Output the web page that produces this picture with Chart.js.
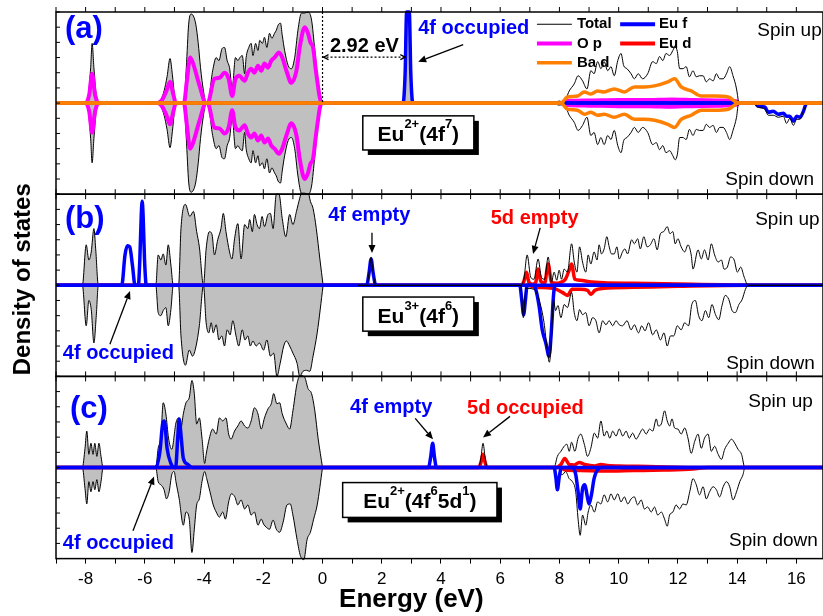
<!DOCTYPE html>
<html>
<head>
<meta charset="utf-8">
<title>Density of states</title>
<script src="https://cdn.jsdelivr.net/npm/chart.js@4.4.1/dist/chart.umd.min.js"></script>
<style>
  html, body { margin: 0; padding: 0; background: #ffffff; }
  canvas { display: block; }
</style>
</head>
<body>
<canvas id="dosChart" width="823" height="616"></canvas>
<script>
// axis ranges
const xMin = -9;
const xMax = 16.9;
const yLimit = 9;
const yTickStep = 1.5;

const colTotal = '#000000';
const colFill = '#c0c0c0';
const colOp = '#ff00ff';
const colBad = '#ff8000';
const colEuf = '#0000ff';
const colEud = '#ff0000';
const FONT = '"Liberation Sans", Arial, sans-serif';

// ---- panel (a) : Eu2+(4f7), spin up / spin down nearly mirror each other ----
const aValTotal = [[-9,0],[-8.0,0],[-7.9,1.0],[-7.83,3.5],[-7.78,5.9],[-7.72,3.5],[-7.65,1.0],[-7.55,0],
  [-5.57,0],[-5.45,0.4],[-5.35,1.2],[-5.25,2.6],[-5.15,4.4],[-5.07,2.8],[-5.0,0.8],[-4.95,0],
  [-4.68,0],[-4.6,3.5],[-4.52,7.8],[-4.44,8.8],[-4.36,8.6],[-4.28,7.8],[-4.2,6.0],[-4.12,3.5],[-4.02,1.2],[-3.93,0],
  [-3.88,0],[-3.71,3.2],[-3.59,4.5],[-3.50,4.2],[-3.39,5.4],[-3.31,5.5],[-3.22,4.2],[-3.14,3.5],[-3.05,1.5],[-2.94,4.5],
  [-2.86,4.2],[-2.79,4.5],[-2.71,4.7],[-2.63,2.9],[-2.58,4.5],[-2.49,5.5],[-2.41,5.9],[-2.35,4.7],[-2.26,5.9],[-2.18,5.2],
  [-2.12,6.2],[-2.03,5.9],[-1.96,6.5],[-1.88,5.5],[-1.79,6.9],[-1.71,6.4],[-1.62,6.9],[-1.56,7.2],[-1.50,7.7],[-1.42,7.9],
  [-1.36,6.7],[-1.28,5.2],[-1.16,3.7],[-1.05,3.4],[-0.94,4.5],[-0.83,7.2],[-0.71,8.9],[-0.60,8.9],[-0.49,9.0],[-0.37,8.2],
  [-0.26,5.2],[-0.15,1.9],[-0.03,0]];
const aPeakTotal = [[2.72,0],[2.79,3.0],[2.84,9.0],[2.93,9.0],[2.98,3.0],[3.05,0]];
const aCondTotal = [[7.82,0],[7.99,0.2],[8.16,0.1],[8.33,1.2],[8.50,1.9],[8.63,2.7],[8.78,2.2],[8.93,1.4],[9.06,3.2],
  [9.17,2.9],[9.29,4.1],[9.40,3.4],[9.51,4.1],[9.63,3.2],[9.74,3.6],[9.85,2.7],[9.97,4.2],[10.08,4.9],[10.17,3.7],
  [10.28,3.4],[10.42,2.9],[10.53,2.4],[10.66,2.9],[10.81,2.4],[10.98,2.9],[11.15,4.1],[11.27,3.9],[11.38,4.6],[11.49,4.2],
  [11.60,4.9],[11.72,4.7],[11.83,5.2],[11.91,5.6],[11.98,5.1],[12.06,3.4],[12.17,3.4],[12.28,3.6],[12.39,2.6],[12.51,3.2],
  [12.62,2.6],[12.73,2.7],[12.85,2.7],[12.96,2.1],[13.07,2.4],[13.19,2.2],[13.30,2.9],[13.41,2.4],[13.53,2.4],[13.64,2.9],
  [13.75,3.6],[13.86,2.7],[13.98,1.4],[14.05,0]];
const aTotalDnTail = [[14.55,0],[14.7,0.4],[14.94,0.6],[15.05,1.2],[15.22,1.2],[15.39,1.4],[15.56,1.3],[15.67,2.0],
  [15.78,1.5],[15.9,2.2],[16.01,1.6],[16.12,1.6],[16.24,0.8],[16.35,0]];
const aOp = [[-9,0],[-8.0,0],[-7.88,0.8],[-7.78,2.9],[-7.68,0.8],[-7.55,0],[-5.57,0],[-5.4,0.4],[-5.27,1.2],[-5.15,2.1],
  [-5.05,1.0],[-4.95,0],[-4.68,0],[-4.58,2.2],[-4.47,4.5],[-4.38,4.0],[-4.16,1.8],[-3.93,0],[-3.88,0],[-3.65,2.4],
  [-3.48,2.5],[-3.31,3.0],[-3.17,2.4],[-3.05,0.7],[-2.94,2.4],[-2.80,2.7],[-2.71,2.4],[-2.63,2.2],[-2.52,3.0],[-2.41,3.4],
  [-2.30,3.0],[-2.18,3.7],[-2.07,3.2],[-1.96,3.9],[-1.84,3.5],[-1.73,4.2],[-1.62,4.5],[-1.47,5.0],[-1.36,4.5],[-1.22,3.2],
  [-1.05,2.0],[-0.88,3.2],[-0.77,5.5],[-0.60,7.5],[-0.49,6.9],[-0.41,6.0],[-0.32,5.5],[-0.21,2.9],[-0.03,0],
  [8.0,0],[8.3,0.2],[9.0,0.25],[10.0,0.3],[11.0,0.3],[11.8,0.35],[12.5,0.3],[13.5,0.25],[14.0,0.15],[14.05,0],[16.9,0]];
const aBad = [[-9,0],[8.05,0],[8.27,0.6],[8.61,0.7],[8.84,1.1],[9.06,0.9],[9.29,1.2],[9.51,1.1],[9.85,1.4],[10.19,1.1],
  [10.53,1.6],[10.87,1.6],[11.21,1.7],[11.66,2.1],[11.89,2.4],[12.11,1.6],[12.45,1.2],[12.79,0.7],[13.24,0.7],[13.70,0.6],
  [14.06,0],[16.9,0]];
const aEufUp = [[-9,0],[2.72,0],[2.79,3.0],[2.84,9.0],[2.93,9.0],[2.98,3.0],[3.05,0],[16.9,0]];
const aEufDn = [[-9,0],[14.6,0],[14.71,0.3],[14.94,0.4],[15.05,0.9],[15.22,0.8],[15.39,1.1],[15.56,1.0],[15.67,1.3],
  [15.78,1.3],[15.9,1.8],[16.01,1.3],[16.12,1.4],[16.24,0.8],[16.35,0],[16.9,0]];

// ---- panel (b) : Eu3+(4f6) ----
const bValTotUp = [[-9,0],[-8.11,0],[-7.98,4.0],[-7.89,2.5],[-7.81,3.3],[-7.72,5.6],[-7.66,3.6],[-7.57,0],
  [-5.63,0],[-5.55,3.0],[-5.46,2.5],[-5.38,3.1],[-5.29,2.0],[-5.21,4.0],[-5.12,2.0],[-5.04,0],
  [-4.86,0],[-4.78,5.6],[-4.63,8.0],[-4.48,6.8],[-4.36,7.3],[-4.25,5.3],[-4.16,3.8],[-4.02,0],
  [-3.93,3.6],[-3.82,5.3],[-3.73,5.0],[-3.65,3.0],[-3.54,4.5],[-3.43,5.6],[-3.35,7.1],[-3.26,5.3],[-3.14,3.3],[-3.06,2.6],
  [-2.97,4.6],[-2.86,6.1],[-2.75,2.6],[-2.63,6.0],[-2.52,5.6],[-2.46,6.5],[-2.37,5.3],[-2.30,7.0],[-2.21,6.0],[-2.13,5.6],
  [-2.04,6.8],[-1.96,5.8],[-1.84,7.0],[-1.76,7.1],[-1.67,5.6],[-1.56,9.0],[-1.47,9.0],[-1.36,6.6],[-1.24,4.8],[-1.11,7.0],
  [-1.00,6.0],[-0.88,7.3],[-0.77,8.6],[-0.66,9.6],[-0.49,9.3],[-0.41,8.3],[-0.32,7.6],[-0.21,5.6],[-0.09,2.6],[0.02,0]];
const bValTotDn = [[-9,0],[-8.11,0],[-7.98,4.0],[-7.89,1.5],[-7.81,2.4],[-7.72,5.7],[-7.64,3.0],[-7.57,0],
  [-5.63,0],[-5.55,2.7],[-5.46,3.0],[-5.38,2.5],[-5.29,2.2],[-5.21,4.0],[-5.12,2.4],[-5.04,0],
  [-4.86,0],[-4.78,5.0],[-4.63,7.9],[-4.50,6.4],[-4.39,7.0],[-4.27,6.0],[-4.16,4.0],[-4.02,0],
  [-3.93,3.7],[-3.84,4.7],[-3.76,3.7],[-3.69,4.7],[-3.59,3.9],[-3.50,5.4],[-3.40,5.0],[-3.31,6.0],[-3.22,4.4],[-3.12,4.9],
  [-3.03,3.5],[-2.92,5.0],[-2.83,6.0],[-2.71,4.4],[-2.62,5.4],[-2.52,5.0],[-2.44,6.0],[-2.35,5.5],[-2.24,6.0],[-2.13,5.7],
  [-1.99,6.4],[-1.88,5.4],[-1.76,7.0],[-1.65,6.7],[-1.54,9.0],[-1.43,7.7],[-1.31,6.0],[-1.22,5.5],[-1.11,6.0],[-1.00,6.7],
  [-0.86,7.7],[-0.77,9.0],[-0.66,8.5],[-0.54,8.4],[-0.43,8.5],[-0.32,7.0],[-0.18,4.7],[0.02,0]];
const bCondTotUp = [[1.2,0],[1.49,0],[1.57,1.2],[1.64,2.8],[1.71,1.2],[1.80,0],[6.69,0],[6.80,0.6],[6.91,3.0],[7.03,0.8],
  [7.14,0.6],[7.28,2.6],[7.39,0.8],[7.50,0.6],[7.62,2.8],[7.73,0.3],[7.82,1.3],[7.91,0.5],[7.99,1.5],[8.07,0.6],[8.16,1.6],
  [8.27,1.3],[8.41,4.1],[8.50,2.3],[8.59,1.3],[8.68,3.8],[8.78,2.3],[8.89,1.3],[8.97,3.0],[9.06,2.1],[9.17,3.3],[9.27,2.5],
  [9.34,4.0],[9.42,3.1],[9.51,3.6],[9.60,4.8],[9.68,3.8],[9.76,3.1],[9.85,3.1],[9.94,3.8],[10.02,2.6],[10.13,3.3],
  [10.21,3.6],[10.30,3.1],[10.44,4.5],[10.53,4.1],[10.64,4.6],[10.73,3.6],[10.85,4.8],[10.96,3.8],[11.07,4.0],[11.19,4.6],
  [11.30,3.5],[11.41,5.1],[11.52,5.3],[11.64,5.8],[11.73,5.1],[11.83,5.3],[11.91,4.1],[12.00,4.6],[12.11,3.8],[12.23,3.3],
  [12.34,4.0],[12.45,3.0],[12.51,1.6],[12.68,3.5],[12.79,2.6],[12.90,3.5],[13.02,2.5],[13.13,4.1],[13.24,3.0],[13.36,2.3],
  [13.47,2.5],[13.56,1.6],[13.67,1.8],[13.78,2.8],[13.90,2.5],[14.01,1.3],[14.12,1.8],[14.24,0.8],[14.37,0],[16.9,0]];
const bCondTotDn = [[1.2,0],[6.69,0],[6.78,3.2],[6.87,0.3],[7.14,0.4],[7.31,1.4],[7.48,3.7],[7.59,6.4],[7.66,7.6],
  [7.73,5.4],[7.80,1.4],[7.87,2.5],[7.95,2.0],[8.05,3.2],[8.16,1.9],[8.27,2.2],[8.41,0.7],[8.50,2.7],[8.59,3.5],[8.68,2.4],
  [8.78,2.9],[8.89,2.7],[9.00,4.0],[9.12,3.2],[9.23,3.5],[9.34,4.7],[9.46,3.5],[9.57,3.9],[9.68,3.5],[9.80,4.0],[9.91,3.5],
  [10.02,3.9],[10.13,4.0],[10.28,3.5],[10.42,4.4],[10.53,3.9],[10.67,4.7],[10.78,4.0],[10.89,4.5],[11.01,3.7],[11.15,4.9],
  [11.27,4.4],[11.41,5.4],[11.53,4.7],[11.64,6.0],[11.75,5.0],[11.86,5.0],[11.98,4.0],[12.11,4.4],[12.23,3.7],[12.36,4.0],
  [12.47,1.9],[12.59,1.5],[12.70,3.0],[12.81,3.5],[12.93,2.5],[13.04,3.2],[13.15,1.9],[13.27,2.9],[13.38,3.4],[13.49,2.0],
  [13.60,1.0],[13.72,1.4],[13.83,2.5],[13.94,2.7],[14.06,1.9],[14.17,1.4],[14.28,0.4],[14.37,0],[16.9,0]];
const bEufUp = [[-9,0],[-6.78,0],[-6.67,3.0],[-6.59,3.9],[-6.51,3.8],[-6.42,2.0],[-6.33,0],[-6.22,0],[-6.17,2.5],
  [-6.12,7.0],[-6.09,8.3],[-6.06,7.0],[-6.01,2.5],[-5.95,0],[1.49,0],[1.57,1.2],[1.64,2.6],[1.71,1.2],[1.80,0],[16.9,0]];
const bEufDn = [[-9,0],[6.66,0],[6.73,1.5],[6.79,2.9],[6.85,1.5],[6.91,0],[7.12,0],[7.20,0.4],[7.31,2.0],[7.42,4.4],
  [7.54,5.7],[7.65,7.0],[7.73,4.4],[7.80,1.0],[7.85,0],[16.9,0]];
const bEudUp = [[-9,0],[6.72,0],[6.80,0.4],[6.89,1.3],[6.97,0.3],[7.10,0.1],[7.20,0.3],[7.28,1.6],[7.37,0.4],[7.50,0.2],
  [7.62,2.1],[7.73,0.3],[7.87,0.2],[8.05,0.3],[8.20,0.6],[8.33,1.5],[8.41,2.1],[8.52,0.6],[8.70,0.5],[9.00,0.35],
  [9.50,0.25],[10.50,0.2],[11.50,0.15],[12.50,0.1],[13.50,0.05],[14.37,0],[16.9,0]];
const bEudDn = [[-9,0],[6.90,0],[7.20,0.2],[7.60,0.25],[7.90,0.4],[8.10,0.7],[8.27,1.0],[8.43,0.4],[8.70,0.4],[8.95,0.5],
  [9.06,0.9],[9.20,0.5],[9.50,0.3],[10.50,0.2],[12.00,0.1],[14.37,0],[16.9,0]];

// ---- panel (c) : Eu2+(4f6 5d1) ----
const cValTotUp = [[-9,0],[-8.11,0],[-8.02,1.9],[-7.96,3.6],[-7.89,1.3],[-7.82,2.4],[-7.75,1.3],[-7.69,2.4],[-7.62,1.1],
  [-7.55,2.4],[-7.48,1.1],[-7.41,0],[-5.63,0],[-5.55,1.9],[-5.46,2.9],[-5.38,6.4],[-5.29,5.3],[-5.20,2.9],[-5.09,1.8],
  [-4.95,4.4],[-4.86,4.9],[-4.78,3.9],[-4.70,5.3],[-4.61,6.4],[-4.50,6.9],[-4.41,8.6],[-4.33,7.3],[-4.25,4.3],[-4.16,4.9],
  [-4.07,2.9],[-3.98,0.4],[-3.93,1.3],[-3.82,2.9],[-3.71,3.8],[-3.59,3.3],[-3.48,4.9],[-3.37,4.6],[-3.26,4.9],[-3.17,3.3],
  [-3.09,2.8],[-2.97,3.6],[-2.86,4.1],[-2.75,4.6],[-2.63,4.1],[-2.52,3.9],[-2.41,4.6],[-2.30,5.9],[-2.18,5.3],[-2.07,3.8],
  [-1.96,4.9],[-1.84,5.8],[-1.73,6.3],[-1.65,7.3],[-1.54,6.3],[-1.45,6.4],[-1.36,5.3],[-1.22,4.3],[-1.11,3.8],[-1.00,5.6],
  [-0.86,8.3],[-0.75,9.1],[-0.60,8.9],[-0.49,7.8],[-0.37,7.3],[-0.26,5.6],[-0.15,2.9],[0.0,0]];
const cValTotDn = [[-9,0],[-8.11,0],[-8.02,2.1],[-7.96,3.6],[-7.89,1.4],[-7.82,2.4],[-7.75,1.4],[-7.69,2.2],[-7.62,1.2],
  [-7.55,2.4],[-7.48,1.4],[-7.41,0],[-5.63,0],[-5.55,1.4],[-5.46,1.7],[-5.35,2.2],[-5.27,3.1],[-5.18,2.4],[-5.09,0.7],
  [-5.01,0.4],[-4.95,1.4],[-4.84,3.1],[-4.70,5.7],[-4.61,4.4],[-4.50,5.1],[-4.41,8.4],[-4.33,6.1],[-4.25,3.7],[-4.16,3.1],
  [-4.07,1.4],[-3.98,0.4],[-3.91,1.1],[-3.80,2.4],[-3.69,3.7],[-3.59,4.4],[-3.48,4.9],[-3.37,4.4],[-3.28,5.1],[-3.17,3.4],
  [-3.08,2.6],[-2.96,2.9],[-2.86,3.7],[-2.75,3.2],[-2.63,4.1],[-2.52,3.7],[-2.41,4.7],[-2.30,4.4],[-2.18,5.7],[-2.07,5.1],
  [-1.99,5.6],[-1.90,5.9],[-1.79,6.1],[-1.67,5.2],[-1.56,6.1],[-1.45,6.4],[-1.33,5.4],[-1.20,3.7],[-1.09,3.6],[-1.00,4.7],
  [-0.86,7.1],[-0.75,8.7],[-0.63,9.1],[-0.52,7.1],[-0.41,6.4],[-0.30,5.1],[-0.18,3.7],[0.0,0]];
const cCondTotUp = [[0,0],[3.58,0],[3.65,1.1],[3.72,2.5],[3.78,1.1],[3.85,0],[5.27,0],[5.35,1.0],[5.42,2.4],[5.49,1.0],
  [5.56,0],[7.82,0],[7.93,1.1],[8.05,1.6],[8.16,2.1],[8.25,2.3],[8.33,1.6],[8.41,2.5],[8.52,1.6],[8.63,2.9],[8.72,3.3],
  [8.84,2.3],[8.95,1.1],[9.06,1.9],[9.18,3.4],[9.29,2.9],[9.40,4.6],[9.51,3.1],[9.60,3.6],[9.70,2.9],[9.80,3.6],[9.91,3.1],
  [10.02,3.8],[10.14,3.1],[10.25,3.6],[10.36,2.9],[10.47,3.4],[10.59,2.8],[10.70,3.3],[10.81,3.8],[10.93,3.3],[11.04,3.8],
  [11.15,3.6],[11.27,4.8],[11.34,4.1],[11.44,4.3],[11.55,5.6],[11.64,4.6],[11.72,4.1],[11.80,4.8],[11.89,3.9],[12.00,3.8],
  [12.11,3.3],[12.23,3.9],[12.34,2.9],[12.45,1.4],[12.57,2.6],[12.68,3.3],[12.79,1.9],[12.90,2.9],[13.02,3.3],[13.13,1.6],
  [13.24,2.1],[13.36,1.3],[13.47,0.8],[13.58,1.8],[13.70,2.4],[13.81,2.8],[13.92,2.4],[14.03,1.8],[14.15,1.3],[14.26,0],
  [16.9,0]];
const cCondTotDn = [[0,0],[7.82,0],[7.88,1.2],[7.93,2.3],[7.99,0.6],[8.10,0.7],[8.21,0.4],[8.33,1.1],[8.44,1.4],[8.55,2.4],
  [8.63,5.1],[8.70,6.7],[8.78,4.7],[8.89,5.7],[8.97,4.4],[9.06,3.7],[9.18,4.4],[9.29,3.4],[9.40,3.6],[9.51,2.7],[9.63,3.4],
  [9.74,2.6],[9.85,3.2],[9.97,2.6],[10.08,3.4],[10.19,2.9],[10.31,3.6],[10.42,3.1],[10.53,2.9],[10.64,3.7],[10.76,3.2],
  [10.87,4.1],[10.98,3.9],[11.10,4.4],[11.21,3.9],[11.32,4.7],[11.44,4.4],[11.55,5.1],[11.64,5.8],[11.72,4.7],[11.83,4.4],
  [11.94,3.7],[12.06,4.1],[12.17,3.6],[12.28,3.7],[12.40,2.4],[12.51,1.1],[12.62,1.7],[12.73,2.7],[12.85,1.9],[12.96,3.1],
  [13.07,2.4],[13.19,1.9],[13.30,2.2],[13.41,2.9],[13.53,1.9],[13.64,1.4],[13.75,1.9],[13.86,3.2],[13.98,2.4],[14.09,1.4],
  [14.20,0.7],[14.26,0],[16.9,0]];
const cEufUp = [[-9,0],[-5.63,0],[-5.49,1.6],[-5.40,4.3],[-5.34,4.6],[-5.25,1.9],[-5.12,0.4],[-5.01,0],[-4.96,0],
  [-4.89,2.9],[-4.84,4.8],[-4.77,2.9],[-4.70,0.9],[-4.55,0.3],[-4.39,0],[3.58,0],[3.65,1.0],[3.72,2.4],[3.78,1.0],
  [3.85,0],[16.9,0]];
const cEufDn = [[-9,0],[7.82,0],[7.88,1.0],[7.93,2.2],[7.99,1.0],[8.07,0],[8.44,0],[8.55,0.7],[8.63,2.4],[8.70,4.1],
  [8.78,2.1],[8.86,1.7],[8.93,2.7],[9.00,3.6],[9.08,2.7],[9.17,1.1],[9.29,0.2],[9.46,0],[16.9,0]];
const cEudUp = [[-9,0],[5.27,0],[5.35,0.5],[5.42,1.3],[5.49,0.5],[5.56,0],[7.90,0],[8.05,0.3],[8.18,0.9],[8.33,0.3],
  [8.50,0.25],[8.67,0.5],[8.85,0.3],[9.20,0.15],[9.40,0.3],[9.60,0.2],[10.0,0.15],[11.0,0.1],[12.8,0],[16.9,0]];
const cEudDn = [[-9,0],[8.00,0],[8.20,0.25],[8.70,0.3],[9.50,0.35],[10.50,0.3],[11.50,0.25],[12.50,0.15],[13.00,0],[16.9,0]];

// spin down is plotted below zero
const down = pts => pts.map(p => [p[0], -p[1]]);

function dos(data, axis, color, width, order, gray) {
  return {
    data: data,
    yAxisID: axis,
    borderColor: color,
    borderWidth: width,
    backgroundColor: gray ? colFill : color,
    fill: gray ? 'origin' : false,
    order: order,
    pointRadius: 0,
    cubicInterpolationMode: 'monotone',
    clip: { left: 0, top: 8, right: 0, bottom: 8 }
  };
}

const datasets = [
  dos(aValTotal.concat(aPeakTotal), 'ya', colTotal, 1, 10, true),
  dos(down(aValTotal), 'ya', colTotal, 1, 10, true),
  dos(aOp, 'ya', colOp, 4, 6),
  dos(down(aOp), 'ya', colOp, 4, 6),
  dos(aEufUp, 'ya', colEuf, 3.5, 4),
  dos(down(aEufDn), 'ya', colEuf, 3.5, 4),
  dos(aCondTotal, 'ya', colTotal, 1, 3),
  dos(down(aCondTotal.concat(aTotalDnTail)), 'ya', colTotal, 1, 3),
  dos(aBad, 'ya', colBad, 3.5, 2),
  dos(down(aBad), 'ya', colBad, 3.5, 2),

  dos(bValTotUp, 'yb', colTotal, 1, 10, true),
  dos(down(bValTotDn), 'yb', colTotal, 1, 10, true),
  dos(bEudUp, 'yb', colEud, 3.5, 6),
  dos(down(bEudDn), 'yb', colEud, 3.5, 6),
  dos(bEufUp, 'yb', colEuf, 3.5, 4),
  dos(down(bEufDn), 'yb', colEuf, 3.5, 4),
  dos(bCondTotUp, 'yb', colTotal, 1, 0),
  dos(down(bCondTotDn), 'yb', colTotal, 1, 0),

  dos(cValTotUp, 'yc', colTotal, 1, 10, true),
  dos(down(cValTotDn), 'yc', colTotal, 1, 10, true),
  dos(cEudUp, 'yc', colEud, 3.5, 6),
  dos(down(cEudDn), 'yc', colEud, 3.5, 6),
  dos(cCondTotUp, 'yc', colTotal, 1, 5),
  dos(down(cCondTotDn), 'yc', colTotal, 1, 5),
  dos(cEufUp, 'yc', colEuf, 3.5, 4),
  dos(down(cEufDn), 'yc', colEuf, 3.5, 4)
];

// annotations, placed in data coordinates (energy, DOS) of each panel
const panelTags = [['ya', '(a)', -8.70, 7.26], ['yb', '(b)', -8.70, 6.47], ['yc', '(c)', -8.53, 5.75]];
const spinTags = [['ya', 'Spin up', 14.68, 7.17], ['ya', 'Spin down', 13.60, -7.53],
  ['yb', 'Spin up', 14.61, 6.47], ['yb', 'Spin down', 13.63, -7.77],
  ['yc', 'Spin up', 14.38, 6.46], ['yc', 'Spin down', 13.73, -7.27]];
const noteTags = [['ya', '4f occupied', 3.23, 7.38, colEuf], ['ya', '2.92 eV', 0.25, 5.61, '#000000'],
  ['yb', '4f empty', 0.19, 6.87, colEuf], ['yb', '5d empty', 5.68, 6.57, colEud], ['yb', '4f occupied', -8.77, -6.71, colEuf],
  ['yc', '4f empty', 0.93, 5.95, colEuf], ['yc', '5d occupied', 4.88, 5.85, colEud], ['yc', '4f occupied', -8.77, -7.50, colEuf]];
const arrows = [['ya', 4.75, 5.78, 3.23, 4.09], ['yb', 1.67, 5.18, 1.67, 3.2], ['yb', 7.35, 5.68, 7.11, 3.10],
  ['yb', -7.18, -5.82, -6.50, -0.57], ['yc', 3.13, 4.86, 3.73, 2.78], ['yc', 6.33, 5.05, 5.42, 2.97],
  ['yc', -6.40, -6.24, -5.69, -0.89]];
const stateBoxes = [
  ['ya', 1.36, 5.11, -1.26, -4.63, [['Eu', 0], ['2+', 1], ['(4f', 0], ['7', 1], [')', 0]]],
  ['yb', 1.36, 5.11, -1.16, -4.53, [['Eu', 0], ['3+', 1], ['(4f', 0], ['6', 1], [')', 0]]],
  ['yc', 0.68, 5.89, -1.49, -4.93, [['Eu', 0], ['2+', 1], ['(4f', 0], ['6', 1], ['5d', 0], ['1', 1], [')', 0]]]
];
const legendItems = [['Total', colTotal, 1.2, 0, 0], ['Eu f', colEuf, 4, 1, 0], ['O p', colOp, 4, 0, 1],
  ['Eu d', colEud, 4, 1, 1], ['Ba d', colBad, 3.5, 0, 2]];
const legendCols = [[7.24, 8.42, 8.59], [10.05, 11.23, 11.36]];
const legendRows = [7.79, 5.88, 3.99];

function arrow(ctx, x1, y1, x2, y2) {
  const a = Math.atan2(y2 - y1, x2 - x1), h = 8, w = 3.5;
  const bx = x2 - h * Math.cos(a), by = y2 - h * Math.sin(a);
  ctx.beginPath();
  ctx.moveTo(x1, y1);
  ctx.lineTo(bx, by);
  ctx.stroke();
  ctx.beginPath();
  ctx.moveTo(x2, y2);
  ctx.lineTo(bx + w * Math.sin(a), by - w * Math.cos(a));
  ctx.lineTo(bx - w * Math.sin(a), by + w * Math.cos(a));
  ctx.closePath();
  ctx.fill();
}

function richText(ctx, parts, cx, baseY) {
  const big = 'bold 21px ' + FONT, small = 'bold 13px ' + FONT;
  let total = 0;
  parts.forEach(p => { ctx.font = p[1] ? small : big; total += ctx.measureText(p[0]).width; });
  let x = cx - total / 2;
  ctx.textAlign = 'left';
  ctx.textBaseline = 'alphabetic';
  parts.forEach(p => {
    ctx.font = p[1] ? small : big;
    ctx.fillText(p[0], x, p[1] ? baseY - 13 : baseY);
    x += ctx.measureText(p[0]).width;
  });
}

const decor = {
  id: 'decor',
  afterDraw(chart) {
    const ctx = chart.ctx;
    const area = chart.chartArea;
    const xs = chart.scales.x;
    const ids = ['ya', 'yb', 'yc'];
    const px = e => xs.getPixelForValue(e);
    const py = (id, v) => chart.scales[id].getPixelForValue(v);
    ctx.save();
    ctx.strokeStyle = '#000';
    ctx.fillStyle = '#000';

    // frames and ticks of each panel
    ids.forEach((id, i) => {
      const s = chart.scales[id];
      ctx.lineWidth = 1.5;
      ctx.strokeRect(area.left, s.top, area.right - area.left, s.bottom - s.top);
      ctx.lineWidth = 1;
      ctx.beginPath();
      xs.ticks.forEach(t => {
        const x = px(t.value);
        ctx.moveTo(x, s.top);
        ctx.lineTo(x, s.top - 5);
        if (i < 2) {
          ctx.moveTo(x, s.bottom);
          ctx.lineTo(x, s.bottom + 5);
        }
      });
      s.ticks.forEach(t => {
        const y = s.getPixelForValue(t.value);
        ctx.moveTo(area.left, y);
        ctx.lineTo(area.left + 4, y);
      });
      ctx.stroke();
    });

    // panel tags and spin labels
    ctx.textBaseline = 'middle';
    ctx.textAlign = 'left';
    panelTags.forEach(t => {
      ctx.font = 'bold 31px ' + FONT;
      ctx.fillStyle = colEuf;
      ctx.fillText(t[1], px(t[2]), py(t[0], t[3]));
    });
    spinTags.forEach(t => {
      ctx.font = '19px ' + FONT;
      ctx.fillStyle = '#000';
      ctx.fillText(t[1], px(t[2]), py(t[0], t[3]));
    });
    noteTags.forEach(t => {
      ctx.font = 'bold 20px ' + FONT;
      ctx.fillStyle = t[4];
      ctx.fillText(t[1], px(t[2]), py(t[0], t[3]));
    });

    // arrows
    ctx.fillStyle = '#000';
    ctx.lineWidth = 1.3;
    arrows.forEach(a => arrow(ctx, px(a[1]), py(a[0], a[2]), px(a[3]), py(a[0], a[4])));

    // 2.92 eV gap marker
    const x0 = px(0), x1 = px(2.83), yGap = py('ya', 4.54);
    ctx.lineWidth = 1.2;
    ctx.setLineDash([2, 2]);
    ctx.beginPath();
    ctx.moveTo(x0, chart.scales.ya.top);
    ctx.lineTo(x0, py('ya', 0));
    ctx.moveTo(x0, yGap);
    ctx.lineTo(x1, yGap);
    ctx.stroke();
    ctx.setLineDash([]);
    ctx.beginPath();
    ctx.moveTo(x0 + 6, yGap - 2.5);
    ctx.lineTo(x0 + 1, yGap);
    ctx.lineTo(x0 + 6, yGap + 2.5);
    ctx.moveTo(x1 - 6, yGap - 2.5);
    ctx.lineTo(x1 - 1, yGap);
    ctx.lineTo(x1 - 6, yGap + 2.5);
    ctx.stroke();

    // configuration boxes with shadow
    stateBoxes.forEach(b => {
      const l = px(b[1]), r = px(b[2]), t = py(b[0], b[3]), btm = py(b[0], b[4]);
      ctx.fillStyle = '#000';
      ctx.fillRect(l + 5, t + 5, r - l, btm - t);
      ctx.fillStyle = '#fff';
      ctx.fillRect(l, t, r - l, btm - t);
      ctx.lineWidth = 1.5;
      ctx.strokeRect(l, t, r - l, btm - t);
      ctx.fillStyle = '#000';
      richText(ctx, b[5], (l + r) / 2, (t + btm) / 2 + 8.5);
    });

    // legend
    ctx.textBaseline = 'middle';
    ctx.textAlign = 'left';
    legendItems.forEach(it => {
      const c = legendCols[it[3]], y = py('ya', legendRows[it[4]]);
      ctx.strokeStyle = it[1];
      ctx.lineWidth = it[2];
      ctx.beginPath();
      ctx.moveTo(px(c[0]), y);
      ctx.lineTo(px(c[1]), y);
      ctx.stroke();
      ctx.font = 'bold 15px ' + FONT;
      ctx.fillStyle = '#000';
      ctx.fillText(it[0], px(c[2]), y);
    });

    // axis titles
    ctx.fillStyle = '#000';
    ctx.font = 'bold 24px ' + FONT;
    ctx.save();
    ctx.translate(area.left - 33, py('yb', 0.6));
    ctx.rotate(-Math.PI / 2);
    ctx.textAlign = 'center';
    ctx.textBaseline = 'middle';
    ctx.fillText('Density of states', 0, 0);
    ctx.restore();
    ctx.font = 'bold 26px ' + FONT;
    ctx.textAlign = 'center';
    ctx.textBaseline = 'alphabetic';
    ctx.fillText('Energy (eV)', px(3.0), area.bottom + 48);
    ctx.restore();
  }
};

function panelAxis(weight) {
  return {
    type: 'linear',
    position: 'left',
    stack: 'dos',
    stackWeight: 1,
    weight: weight,
    min: -yLimit,
    max: yLimit,
    ticks: { display: false, stepSize: yTickStep },
    grid: { display: false, drawTicks: false },
    border: { display: false }
  };
}

new Chart(document.getElementById('dosChart').getContext('2d'), {
  type: 'line',
  data: { datasets: datasets },
  options: {
    responsive: false,
    animation: false,
    events: [],
    layout: { padding: { left: 56, right: 0, top: 12, bottom: 20 } },
    plugins: { legend: { display: false }, tooltip: { enabled: false } },
    scales: {
      x: {
        type: 'linear',
        min: xMin,
        max: xMax,
        ticks: {
          stepSize: 1,
          includeBounds: false,
          padding: 6,
          color: '#000',
          font: { family: FONT, size: 17 },
          maxRotation: 0,
          autoSkip: false,
          callback: v => (v % 2 === 0 ? String(v) : '')
        },
        grid: { drawOnChartArea: false, drawTicks: true, tickLength: 5, color: '#000', lineWidth: 1 },
        border: { display: false }
      },
      ya: panelAxis(3),
      yb: panelAxis(2),
      yc: panelAxis(1)
    }
  },
  plugins: [decor]
});
</script>
</body>
</html>
